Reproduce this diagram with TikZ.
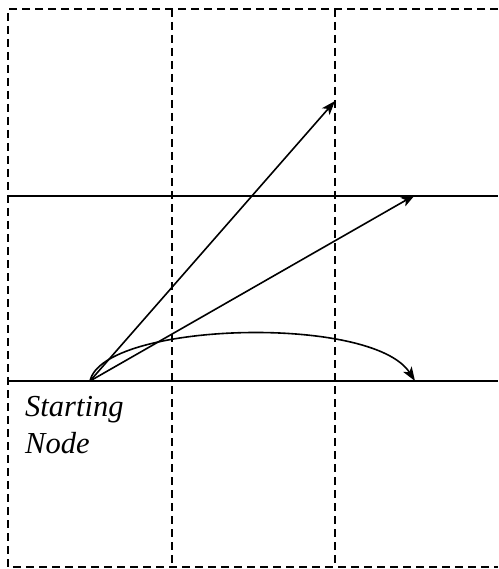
\documentclass[tikz,border=0pt]{standalone}
\usepackage{fontspec}
\setmainfont{Liberation Serif}
\usetikzlibrary{arrows.meta}
\begin{document}
\begin{tikzpicture}[x=1pt,y=-1pt,
  gridline/.style={line width=1.9pt,dash pattern=on 8pt off 5pt},
  hline/.style={line width=1.6pt},
  edge/.style={line width=1.6pt,-{Stealth[length=14pt,width=10pt,inset=3.5pt]}},
  lbl/.style={font=\itshape\fontsize{30.5}{37}\selectfont,align=left,anchor=north west,inner sep=0pt}]
\useasboundingbox (0,0) rectangle (498,569);
% grid
\coordinate (tl) at (8,9);
\coordinate (tr) at (498,9);
\coordinate (bl) at (8,567);
\coordinate (br) at (498,567);
\coordinate (v1t) at (172,9);
\coordinate (v1b) at (172,567);
\coordinate (v2t) at (335,9);
\coordinate (v2b) at (335,567);
\coordinate (h1l) at (8,196);
\coordinate (h1r) at (498,196);
\coordinate (h2l) at (8,381);
\coordinate (h2r) at (498,381);
\draw[gridline] (tr) -- (tl) -- (bl) -- (br);
\draw[gridline] (v1t) -- (v1b);
\draw[gridline] (v2t) -- (v2b);
\draw[hline] (h1l) -- (h1r);
\draw[hline] (h2l) -- (h2r);
% nodes
\coordinate (s) at (90,381);
\coordinate (a) at (335,101);
\coordinate (b) at (415,195);
\coordinate (c) at (415,381);
\draw[edge] (s) -- (a);
\draw[edge] (s) -- (b);
\draw[edge] (s) .. controls (103,322) and (372,314) .. (c);
\node[lbl] (t) at (25,396) {Starting\\Node};
\end{tikzpicture}
\end{document}
